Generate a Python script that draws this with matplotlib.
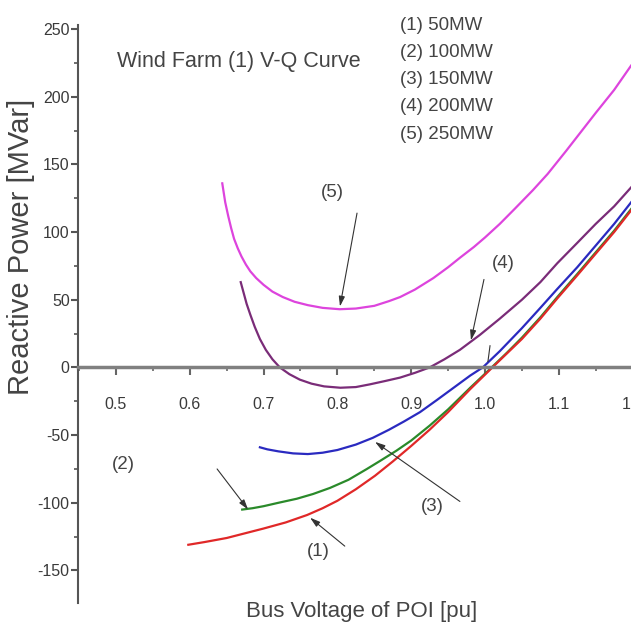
import matplotlib
matplotlib.use("Agg")
import matplotlib.pyplot as plt
from matplotlib.ticker import MultipleLocator

plt.rcParams['font.family'] = ['Liberation Sans', 'DejaVu Sans']
plt.rcParams['axes.unicode_minus'] = False

# ---- data ----
x_250 = [0.644, 0.648, 0.652, 0.656, 0.660, 0.665, 0.670, 0.676, 0.682, 0.690,
         0.700, 0.712, 0.726, 0.742, 0.760, 0.780, 0.803, 0.825, 0.850, 0.870,
         0.885, 0.905, 0.930, 0.950, 0.966, 0.985, 1.000, 1.020, 1.040, 1.065,
         1.085, 1.110, 1.130, 1.150, 1.175, 1.198]
q_250 = [136, 122, 112, 103, 95, 88, 82, 76, 71, 66,
         61, 56, 52, 48.5, 46, 44, 43, 43.5, 45.5, 49,
         52, 57.5, 66, 74, 81, 89, 96, 106, 117, 131,
         143, 160, 174, 188, 205, 223]

x_200 = [0.669, 0.673, 0.677, 0.682, 0.688, 0.695, 0.703, 0.712, 0.722, 0.735,
         0.749, 0.765, 0.782, 0.804, 0.825, 0.844, 0.865, 0.885, 0.905, 0.925,
         0.945, 0.966, 0.993, 1.020, 1.050, 1.075, 1.098, 1.125, 1.150, 1.175, 1.198]
q_200 = [63, 55, 47, 39, 30, 21, 13, 6, 0, -5,
         -9, -12, -14, -15, -14.5, -12.5, -10, -7.5, -4, 0,
         6, 13, 24, 36, 50, 63, 77, 92, 106, 119, 133]

x_150 = [0.695, 0.705, 0.720, 0.740, 0.760, 0.780, 0.800, 0.825, 0.848, 0.870,
         0.890, 0.912, 0.935, 0.960, 0.980, 0.997, 1.020, 1.050, 1.075, 1.098,
         1.125, 1.150, 1.175, 1.198]
q_150 = [-59, -60.5, -62, -63.5, -64, -63, -61, -57, -52, -46,
         -40, -33, -24, -14, -6, 0, 12, 29, 44, 58,
         74, 90, 106, 122]

x_100 = [0.671, 0.685, 0.700, 0.720, 0.745, 0.767, 0.790, 0.815, 0.840, 0.858,
         0.880, 0.900, 0.925, 0.950, 0.980, 1.009, 1.030, 1.050, 1.075, 1.098,
         1.125, 1.150, 1.175, 1.198]
q_100 = [-105, -104, -102.5, -100, -97, -93.5, -89, -83, -75, -69,
         -61.5, -54, -43, -31, -15, 0, 11, 22, 37, 52,
         69, 85, 101, 117]

x_50 = [0.598, 0.620, 0.650, 0.675, 0.700, 0.730, 0.759, 0.780, 0.800, 0.825,
        0.851, 0.875, 0.900, 0.925, 0.950, 0.980, 1.010, 1.030, 1.050, 1.075,
        1.098, 1.125, 1.150, 1.175, 1.198]
q_50 = [-131, -129, -126, -122.5, -119, -114.5, -109, -104, -98.5, -90,
        -80, -69.5, -58, -46, -33, -16, 0, 10.5, 21, 36,
        51, 68, 84, 100, 116]

legend_lines = ["(1) 50MW", "(2) 100MW", "(3) 150MW", "(4) 200MW", "(5) 250MW"]
x_ticks = [0.5, 0.6, 0.7, 0.8, 0.9, 1.0, 1.1, 1.2]
x_ticklabels = ["0.5", "0.6", "0.7", "0.8", "0.9", "1.0", "1.1", "1.2"]
y_ticks = [-150, -100, -50, 0, 50, 100, 150, 200, 250]

# ---- figure ----
fig = plt.figure(figsize=(6.31, 6.30), dpi=100)
ax = fig.add_axes([0.1236, 0.0429, 0.9374, 0.9175])
ax.set_xlim(0.4485, 1.25)
ax.set_ylim(-174, 253)

lw = 1.6
ax.plot(x_250, q_250, color='#dd44dd', lw=lw, solid_joinstyle='round')
ax.plot(x_200, q_200, color='#7a2c78', lw=lw, solid_joinstyle='round')
ax.plot(x_150, q_150, color='#2a2ac0', lw=lw, solid_joinstyle='round')
ax.plot(x_100, q_100, color='#2a8a2a', lw=lw, solid_joinstyle='round')
ax.plot(x_50, q_50, color='#e02828', lw=lw, solid_joinstyle='round')

# axes styling
for s in ['top', 'right']:
    ax.spines[s].set_visible(False)
ax.spines['bottom'].set_position(('data', 0))
ax.spines['bottom'].set_color('#808080')
ax.spines['bottom'].set_linewidth(2.5)
ax.spines['left'].set_color('#555555')
ax.spines['left'].set_linewidth(1.5)

ax.set_xticks(x_ticks)
ax.set_xticklabels(x_ticklabels)
ax.xaxis.set_minor_locator(MultipleLocator(0.05))
ax.set_yticks(y_ticks)
ax.yaxis.set_minor_locator(MultipleLocator(25))
ax.tick_params(axis='x', which='major', direction='out', length=6, width=1.5,
               color='#666666', pad=15, labelsize=11.5, labelcolor='#3a3a3a')
ax.tick_params(axis='x', which='minor', direction='out', length=3, width=1.2, color='#666666')
ax.tick_params(axis='y', which='major', direction='out', length=5, width=1.5,
               color='#555555', pad=1, labelsize=11.5, labelcolor='#3a3a3a')
ax.tick_params(axis='y', which='minor', direction='out', length=3, width=1.2, color='#555555')

# labels
fig.text(21 / 631, 1 - 247 / 630, "Reactive Power [MVar]", rotation=90,
         ha='center', va='center', fontsize=21, color='#444444')
fig.text(362 / 631, 1 - 612 / 630, "Bus Voltage of POI [pu]",
         ha='center', va='center', fontsize=16, color='#444444')
fig.text(239 / 631, 1 - 62 / 630, "Wind Farm (1) V-Q Curve",
         ha='center', va='center', fontsize=15.5, color='#444444')
for i, t in enumerate(legend_lines):
    fig.text(400 / 631, 1 - (25 + 27.3 * i) / 630, t, ha='left', va='center',
             fontsize=13.5, color='#444444')

# annotations with arrows
arrow = dict(arrowstyle='-|>,head_length=0.6,head_width=0.18', color='#333333',
             lw=0.8, shrinkA=0, shrinkB=0)
tk = dict(fontsize=13.5, color='#444444', ha='center', va='center')
ax.text(0.7927, 129, "(5)", **tk)
ax.annotate("", xy=(0.8035, 45), xytext=(0.8266, 114), arrowprops=arrow)
ax.text(1.0244, 77, "(4)", **tk)
ax.annotate("", xy=(0.981, 20), xytext=(0.9986, 65), arrowprops=arrow)
ax.text(0.928, -103, "(3)", **tk)
ax.annotate("", xy=(0.851, -55), xytext=(0.966, -99), arrowprops=arrow)
ax.text(0.5095, -71.5, "(2)", **tk)
ax.annotate("", xy=(0.679, -105), xytext=(0.637, -75), arrowprops=arrow)
ax.text(0.774, -136, "(1)", **tk)
ax.annotate("", xy=(0.763, -111), xytext=(0.810, -132), arrowprops=arrow)
ax.plot([1.0068, 1.004], [16, 4.4], color='#333333', lw=0.8)

fig.savefig("out.png", dpi=100)
